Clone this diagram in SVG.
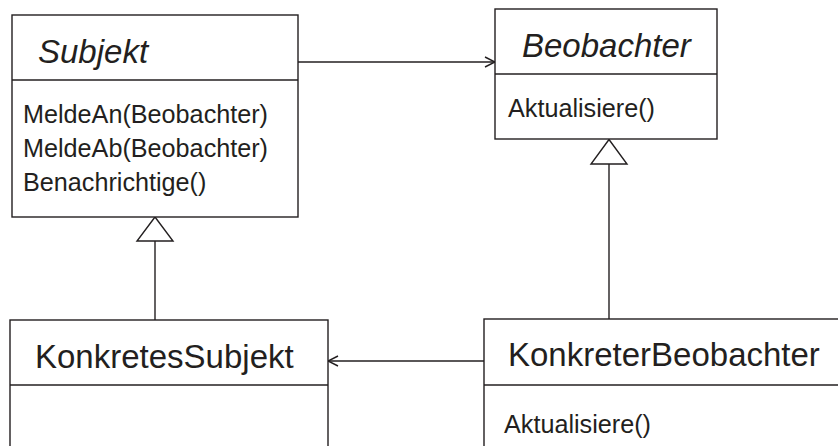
<svg xmlns="http://www.w3.org/2000/svg" width="838" height="446" viewBox="0 0 838 446">
  <style>
    .box { fill: #ffffff; stroke: #231f20; stroke-width: 1.4; }
    .sep { stroke: #231f20; stroke-width: 1.4; }
    .title { font-family: "Liberation Sans", Arial, sans-serif; font-size: 33px; fill: #231f20; }
    .abstract { font-style: italic; }
    .op { font-family: "Liberation Sans", Arial, sans-serif; font-size: 25.2px; fill: #231f20; }
    .edge { fill: none; stroke: #231f20; stroke-width: 1.4; }
    .head { fill: #ffffff; stroke: #231f20; stroke-width: 1.4; stroke-linejoin: miter; }
  </style>
  <defs>
    <marker id="open-arrow" viewBox="0 0 12 12" refX="11" refY="6" markerWidth="12" markerHeight="12" markerUnits="userSpaceOnUse" orient="auto">
      <path d="M1,1 L11,6 L1,11" fill="none" stroke="#231f20" stroke-width="1.4"/>
    </marker>
  </defs>

  <rect width="838" height="446" fill="#ffffff"/>

  <!-- Connectors -->
  <g id="connectors">
    <!-- association Subjekt -> Beobachter -->
    <line class="edge" x1="298" y1="62" x2="495" y2="62" marker-end="url(#open-arrow)"/>
    <!-- association KonkreterBeobachter -> KonkretesSubjekt -->
    <line class="edge" x1="484" y1="361" x2="328" y2="361" marker-end="url(#open-arrow)"/>
    <!-- generalisation KonkretesSubjekt -> Subjekt -->
    <line class="edge" x1="155" y1="241" x2="155" y2="320"/>
    <polygon class="head" points="155,217 173,241 137,241"/>
    <!-- generalisation KonkreterBeobachter -> Beobachter -->
    <line class="edge" x1="609" y1="164" x2="609" y2="319"/>
    <polygon class="head" points="609,139.5 627,164 591,164"/>
  </g>

  <!-- Subjekt (abstract) -->
  <g id="subjekt">
    <rect class="box" x="12" y="15" width="286" height="202"/>
    <line class="sep" x1="12" y1="80" x2="298" y2="80"/>
    <text class="title abstract" x="38" y="63">Subjekt</text>
    <text class="op" x="23" y="123">MeldeAn(Beobachter)</text>
    <text class="op" x="23" y="157">MeldeAb(Beobachter)</text>
    <text class="op" x="23" y="191">Benachrichtige()</text>
  </g>

  <!-- Beobachter (abstract) -->
  <g id="beobachter">
    <rect class="box" x="495" y="9" width="222" height="130"/>
    <line class="sep" x1="495" y1="74" x2="717" y2="74"/>
    <text class="title abstract" x="522" y="57">Beobachter</text>
    <text class="op" x="508" y="117">Aktualisiere()</text>
  </g>

  <!-- KonkretesSubjekt -->
  <g id="konkretes-subjekt">
    <rect class="box" x="10" y="320" width="318" height="140"/>
    <line class="sep" x1="10" y1="385" x2="328" y2="385"/>
    <text class="title" x="35" y="368">KonkretesSubjekt</text>
  </g>

  <!-- KonkreterBeobachter -->
  <g id="konkreter-beobachter">
    <rect class="box" x="484" y="319" width="370" height="140"/>
    <line class="sep" x1="484" y1="385" x2="854" y2="385"/>
    <text class="title" x="508" y="366">KonkreterBeobachter</text>
    <text class="op" x="504" y="433">Aktualisiere()</text>
  </g>
</svg>
